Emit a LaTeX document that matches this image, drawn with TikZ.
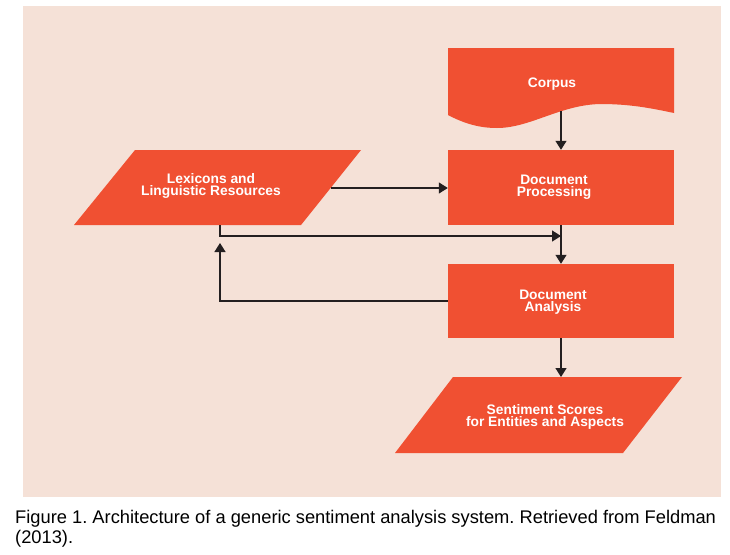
\documentclass[tikz,border=0pt]{standalone}
\usepackage{fontspec}
\setmainfont{Liberation Sans}
\usetikzlibrary{arrows.meta,calc}
\definecolor{panel}{RGB}{245,225,215}
\definecolor{boxfill}{RGB}{240,80,50}
\definecolor{linec}{RGB}{35,31,32}
\tikzset{
  boxnode/.style={fill=boxfill,draw=none,minimum width=226pt,minimum height=75pt,inner sep=0pt},
  lbl/.style={text=white,font=\bfseries\fontsize{13.8}{12.5}\selectfont,align=center,inner sep=0pt},
  conn/.style={draw=linec,line width=1.3pt},
  arr/.style={conn,-{Triangle[length=9pt,width=11pt]}},
  shapefill/.style={fill=boxfill,draw=none}
}
\frenchspacing
\begin{document}
\begin{tikzpicture}[x=1pt,y=-1pt]
\useasboundingbox (0,0) rectangle (730,554);
\fill[white] (0,0) rectangle (730,554);
\fill[panel] (23,6) rectangle (721,497);
% Corpus (document shape)
\fill[boxfill] (448,48) -- (674,48) -- (674,113)
  .. controls (650,108) and (630,104) .. (600,104)
  .. controls (560,105) and (530,128) .. (497,128)
  .. controls (480,128) and (465,124) .. (448,115) -- cycle;
\coordinate (corpusBot) at (561,111);
\node[lbl] (corpus) at (552,84) {Corpus};
% Lexicons (parallelogram)
\fill[boxfill] (135,150) -- (361,150) -- (301,225) -- (74,225) -- cycle;
\coordinate (lexR) at (331,188);
\coordinate (lexB) at (220,225);
\node[lbl] (lex) at (211,186) {Lexicons and\\Linguistic Resources};
% Document Processing
\node[boxnode] (dp) at (561,187.5) {};
\node[lbl] (dpt) at (554,187) {Document\\Processing};
% Document Analysis
\node[boxnode,minimum height=74pt] (da) at (561,301) {};
\node[lbl] (dat) at (553,302) {Document\\Analysis};
% Sentiment Scores (parallelogram)
\fill[boxfill] (453,377) -- (682,377) -- (623,453) -- (395,453) -- cycle;
\coordinate (sentTop) at (561,377);
\node[lbl] (sent) at (545,417) {Sentiment Scores\\for Entities and Aspects};
% connectors
\coordinate (j) at (561,236);
\coordinate (jl) at (220,236);
\coordinate (fbc) at (220,301);
\coordinate (fbTip) at (220,243);
\draw[arr] (corpusBot) -- (dp.north);
\draw[arr] (lexR) -- (dp.west |- lexR);
\draw[arr] (dp.south) -- (da.north);
\draw[arr] (lexB) -- (jl) -- (j);
\draw[arr] (da.west) -- (fbc) -- (fbTip);
\draw[arr] (da.south) -- (sentTop);
% caption
\node[anchor=north west,inner sep=0pt,align=left,font=\fontsize{18.3}{20}\selectfont] (cap) at (15,510)
  {Figure 1. Architecture of a generic sentiment analysis system. Retrieved from Feldman\\(2013).};
\end{tikzpicture}
\end{document}
